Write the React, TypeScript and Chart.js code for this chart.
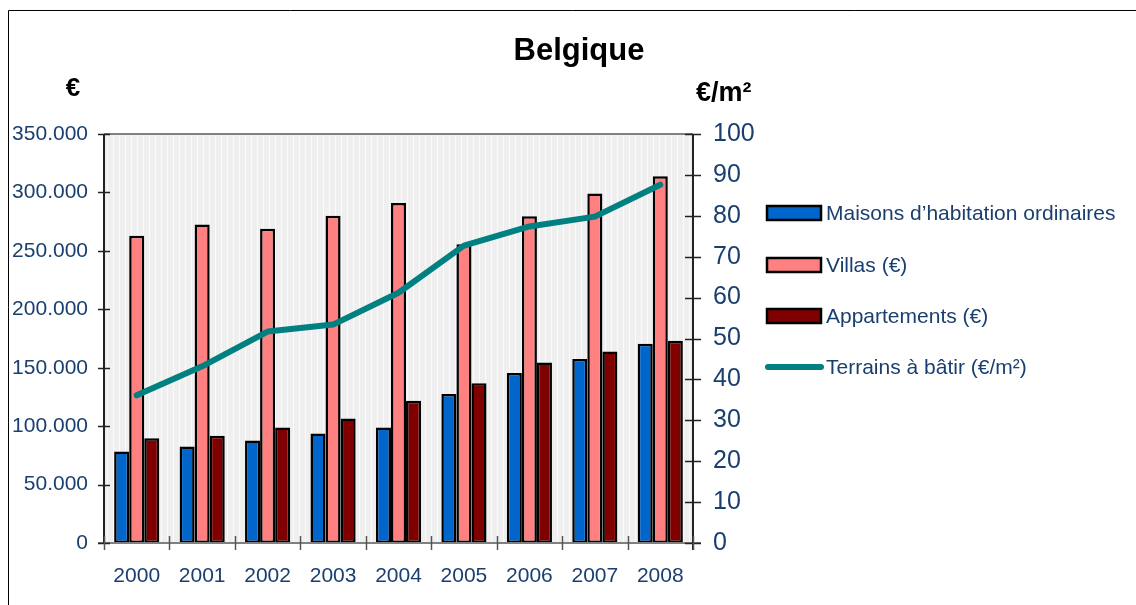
import React, { useEffect, useRef } from 'react';
import { Chart, registerables } from 'chart.js';

Chart.register(...registerables);

const years = ['2000', '2001', '2002', '2003', '2004', '2005', '2006', '2007', '2008'];
const maisons = [78200, 82500, 87700, 93700, 98800, 127400, 145400, 157400, 170500];
const villas = [263000, 272500, 269000, 280000, 291000, 255600, 279600, 299000, 313900];
const appartements = [89700, 91700, 98800, 106500, 121700, 136800, 154500, 163900, 173100];
const terrains = [36.1, 43.2, 51.7, 53.4, 61.2, 72.7, 77.4, 79.8, 87.6];

const seriesNames = [
  'Maisons d\u2019habitation ordinaires',
  'Villas (\u20ac)',
  'Appartements (\u20ac)',
  'Terrains \u00e0 b\u00e2tir (\u20ac/m\u00b2)',
];
const titleText = 'Belgique';
const leftUnit = '\u20ac';
const rightUnit = '\u20ac/m\u00b2';

const colors = ['#0066CC', '#FF8080', '#800000', '#008080'];
const navy = '#1A3F6F';
const FONT = "'Liberation Sans', Arial, Helvetica, sans-serif";

const fmtThousands = (v: number) => String(v).replace(/\B(?=(\d{3})+(?!\d))/g, '.');

const decorPlugin = {
  id: 'decor',
  beforeDatasetsDraw(chart: any) {
    const { ctx, chartArea } = chart;
    const { left, right, top, bottom } = chartArea;
    ctx.save();
    ctx.fillStyle = '#EFEFEF';
    ctx.fillRect(left, top, right - left, bottom - top);
    ctx.strokeStyle = '#FBFBFB';
    ctx.lineWidth = 1;
    for (let x = left + 3.5; x < right; x += 6) {
      ctx.beginPath();
      ctx.moveTo(x, top);
      ctx.lineTo(x, bottom);
      ctx.stroke();
    }
    ctx.restore();
  },
  afterDatasetsDraw(chart: any) {
    const { ctx, chartArea, scales } = chart;
    const { left, right, top, bottom } = chartArea;
    ctx.save();
    ctx.strokeStyle = '#808080';
    ctx.lineWidth = 2;
    ctx.beginPath();
    ctx.moveTo(left, top);
    ctx.lineTo(right, top);
    ctx.stroke();
    ctx.beginPath();
    ctx.moveTo(left - 6, bottom);
    ctx.lineTo(right + 8, bottom);
    ctx.stroke();
    ctx.strokeStyle = '#222';
    ctx.lineWidth = 2;
    ctx.beginPath();
    ctx.moveTo(left, top);
    ctx.lineTo(left, bottom + 1);
    ctx.stroke();
    ctx.beginPath();
    ctx.moveTo(right, top);
    ctx.lineTo(right, bottom + 7);
    ctx.stroke();
    ctx.lineWidth = 1.5;
    scales.y.ticks.forEach((t: any) => {
      const y = Math.round(scales.y.getPixelForValue(t.value)) + 0.5;
      ctx.beginPath();
      ctx.moveTo(left - 6, y);
      ctx.lineTo(left + 6, y);
      ctx.stroke();
    });
    scales.y1.ticks.forEach((t: any) => {
      const y = Math.round(scales.y1.getPixelForValue(t.value)) + 0.5;
      ctx.beginPath();
      ctx.moveTo(right - 8, y);
      ctx.lineTo(right + 8, y);
      ctx.stroke();
    });
    ctx.strokeStyle = '#555';
    const n = years.length;
    const cw = (right - left) / n;
    for (let i = 0; i <= n; i++) {
      const x = Math.round(left + i * cw) + 0.5;
      ctx.beginPath();
      ctx.moveTo(x, bottom - 7);
      ctx.lineTo(x, bottom + 7);
      ctx.stroke();
    }
    ctx.restore();
  },
  afterDraw(chart: any) {
    const { ctx } = chart;
    ctx.save();
    ctx.strokeStyle = '#000';
    ctx.lineWidth = 1;
    ctx.beginPath();
    ctx.moveTo(8.5, 605);
    ctx.lineTo(8.5, 10.5);
    ctx.lineTo(1136, 10.5);
    ctx.stroke();
    ctx.fillStyle = '#000';
    ctx.textBaseline = 'alphabetic';
    ctx.textAlign = 'center';
    ctx.font = `bold 31px ${FONT}`;
    ctx.fillText(titleText, 579, 60);
    ctx.font = `bold 26px ${FONT}`;
    ctx.fillText(leftUnit, 73, 96);
    ctx.textAlign = 'left';
    ctx.font = `bold 27px ${FONT}`;
    ctx.fillText(rightUnit, 696, 101);
    const ys = [213, 265, 316, 367];
    ctx.font = `21px ${FONT}`;
    for (let i = 0; i < 4; i++) {
      const y = ys[i];
      if (i < 3) {
        ctx.fillStyle = colors[i];
        ctx.fillRect(767, y - 7, 54, 14);
        ctx.strokeStyle = '#000';
        ctx.lineWidth = 2.5;
        ctx.strokeRect(767, y - 7, 54, 14);
      } else {
        ctx.strokeStyle = colors[3];
        ctx.lineWidth = 6;
        ctx.lineCap = 'round';
        ctx.beginPath();
        ctx.moveTo(768, y);
        ctx.lineTo(821, y);
        ctx.stroke();
      }
      ctx.fillStyle = navy;
      ctx.textBaseline = 'middle';
      ctx.fillText(seriesNames[i], 826, y + 1);
    }
    ctx.restore();
  },
};

export default function App() {
  const ref = useRef<HTMLCanvasElement | null>(null);
  useEffect(() => {
    if (!ref.current) return;
    const barCommon = {
      type: 'bar' as const,
      yAxisID: 'y',
      borderColor: '#000',
      borderWidth: 2.5,
      borderSkipped: false as const,
      categoryPercentage: 0.69,
      barPercentage: 1,
      order: 2,
    };
    const chart = new Chart(ref.current, {
      type: 'bar',
      data: {
        labels: years,
        datasets: [
          { ...barCommon, label: seriesNames[0], data: maisons, backgroundColor: colors[0] },
          { ...barCommon, label: seriesNames[1], data: villas, backgroundColor: colors[1] },
          { ...barCommon, label: seriesNames[2], data: appartements, backgroundColor: colors[2] },
          {
            type: 'line' as const,
            label: seriesNames[3],
            data: terrains,
            yAxisID: 'y1',
            borderColor: colors[3],
            borderWidth: 6,
            borderCapStyle: 'round',
            borderJoinStyle: 'round',
            pointRadius: 0,
            tension: 0,
            order: 0,
          } as any,
        ],
      },
      options: {
        responsive: false,
        animation: false,
        devicePixelRatio: 1,
        layout: { padding: { top: 134, left: 0, right: 0, bottom: 0 } },
        plugins: { legend: { display: false }, tooltip: { enabled: false }, title: { display: false } },
        scales: {
          x: {
            grid: { display: false, drawTicks: false },
            border: { display: false },
            ticks: { color: navy, font: { family: FONT, size: 21 }, padding: 21, maxRotation: 0 },
            afterFit: (s: any) => { s.height = 62; },
          },
          y: {
            position: 'left',
            min: 0,
            max: 350000,
            grid: { display: false, drawTicks: false },
            border: { display: false },
            ticks: {
              stepSize: 50000,
              color: navy,
              font: { family: FONT, size: 21 },
              padding: 16,
              callback: (v: any) => fmtThousands(Number(v)),
            },
            afterFit: (s: any) => { s.width = 104; },
          },
          y1: {
            position: 'right',
            min: 0,
            max: 100,
            grid: { display: false, drawTicks: false },
            border: { display: false },
            ticks: { stepSize: 10, color: navy, font: { family: FONT, size: 25 }, padding: 20 },
            afterFit: (s: any) => { s.width = 443; },
          },
        },
      },
      plugins: [decorPlugin],
    });
    return () => chart.destroy();
  }, []);
  return (
    <div style={{ position: 'fixed', left: 0, top: 0, width: 1136, height: 605, background: '#fff' }}>
      <canvas ref={ref} width={1136} height={605} style={{ display: 'block' }} />
    </div>
  );
}
